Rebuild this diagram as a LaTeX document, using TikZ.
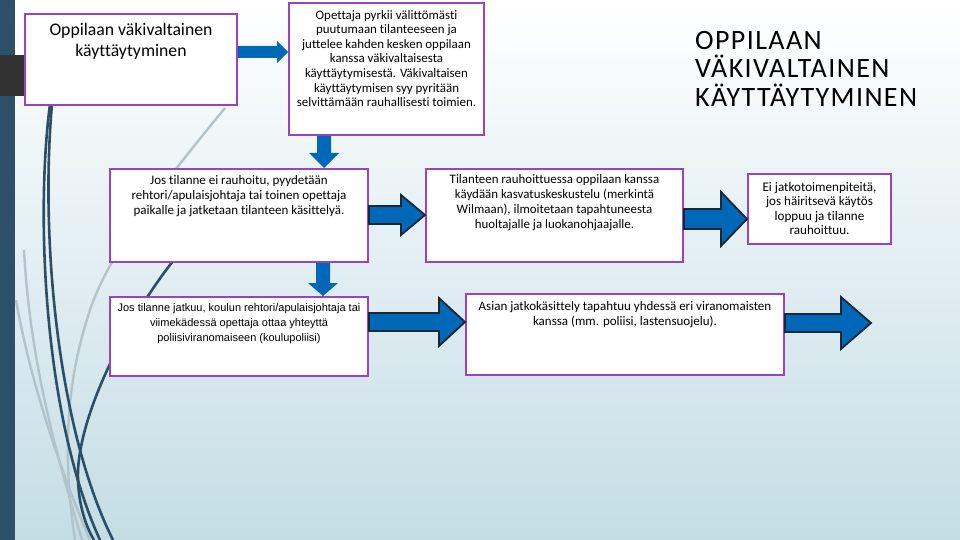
\documentclass[tikz,border=0pt]{standalone}
\usepackage{fontspec}
\setmainfont{Carlito}[Ligatures={NoCommon}]
\newfontfamily\arialf{Liberation Sans}[Ligatures={NoCommon}]
\usetikzlibrary{calc}
\definecolor{boxpurple}{RGB}{155,65,195}
\definecolor{arrowblue}{RGB}{0,104,182}
\definecolor{arrowedge}{RGB}{25,40,55}
\definecolor{barblue}{RGB}{44,80,104}
\definecolor{bgbottom}{RGB}{196,221,229}
\definecolor{darkblock}{RGB}{50,50,50}
\definecolor{curvedark}{RGB}{44,78,102}
\definecolor{curvelight}{RGB}{178,196,202}
% right-pointing block arrow: #1 start, #2 tip, #3 shaft half, #4 head half, #5 head length, #6 style
\newcommand\blockarrowR[6]{%
  \path[#6] ($(#1)+(0,-#3)$) -- ($(#2)+(-#5,-#3)$) -- ($(#2)+(-#5,-#4)$) -- (#2)
    -- ($(#2)+(-#5,#4)$) -- ($(#2)+(-#5,#3)$) -- ($(#1)+(0,#3)$) -- cycle;}
% down-pointing block arrow
\newcommand\blockarrowD[6]{%
  \path[#6] ($(#1)+(-#3,0)$) -- ($(#2)+(-#3,-#5)$) -- ($(#2)+(-#4,-#5)$) -- (#2)
    -- ($(#2)+(#4,-#5)$) -- ($(#2)+(#3,-#5)$) -- ($(#1)+(#3,0)$) -- cycle;}
\begin{document}
\begin{tikzpicture}[x=1pt,y=-1pt,
  box/.style={draw=boxpurple, line width=2pt, fill=white, inner sep=0pt},
  boxtext/.style={anchor=north, align=center, inner sep=0pt},
  flatarrow/.style={fill=arrowblue},
  edgearrow/.style={fill=arrowblue, draw=arrowedge, line width=1.8pt, line join=miter},
  darkcurve/.style={draw=curvedark, line width=2.6pt},
  lightcurve/.style={draw=curvelight, line width=2.4pt}]
\useasboundingbox (0,0) rectangle (960,540);
% background
\shade[top color=white, bottom color=bgbottom] (0,0) rectangle (960,540);
\fill[barblue] (0,0) rectangle (15,540);
\fill[darkblock] (0,55) rectangle (24,96);
% decorative curves
\path[lightcurve] (225,108) .. controls (170,175) and (110,250) .. (90,310) .. controls (70,370) and (60,440) .. (75,540);
\path[lightcurve] (16,300) .. controls (30,380) and (60,470) .. (90,540);
\path[lightcurve] (24,250) .. controls (30,360) and (55,450) .. (82,540);
\path[darkcurve] (50,104) .. controls (35,220) and (45,420) .. (100,540);
\path[darkcurve] (52,104) .. controls (40,240) and (58,430) .. (113,540);
\path[darkcurve] (178,255) .. controls (140,300) and (82,400) .. (78,470) .. controls (77,500) and (85,525) .. (94,540);
% boxes
\node[box, minimum width=212pt, minimum height=91pt, anchor=north west] (A) at (24,13) {};
\node[box, minimum width=195pt, minimum height=132pt, anchor=north west] (B) at (288,2) {};
\node[box, minimum width=258pt, minimum height=93pt, anchor=north west] (C) at (109,168) {};
\node[box, minimum width=257pt, minimum height=93pt, anchor=north west] (D) at (425,168) {};
\node[box, minimum width=143pt, minimum height=70pt, anchor=north west] (E) at (747,173) {};
\node[box, minimum width=258pt, minimum height=79pt, anchor=north west] (F) at (109,296) {};
\node[box, minimum width=318pt, minimum height=81pt, anchor=north west] (G) at (465,293) {};
\coordinate (Gout) at (871,323);
% texts
\node[boxtext, font=\fontsize{17.7}{21.5}\selectfont] (At) at ($(A.north)+(0,10)$) {Oppilaan väkivaltainen\\käyttäytyminen};
\node[boxtext, font=\fontsize{12.9}{14.6}\selectfont] (Bt) at ($(B.north)+(0,8)$) {Opettaja pyrkii välittömästi\\puutumaan tilanteeseen ja\\juttelee kahden kesken oppilaan\\kanssa väkivaltaisesta\\käyttäytymisestä. Väkivaltaisen\\käyttäytymisen syy pyritään\\selvittämään rauhallisesti toimien.};
\node[boxtext, font=\fontsize{13}{15}\selectfont] (Ct) at ($(C.north)+(0,7)$) {Jos tilanne ei rauhoitu, pyydetään\\rehtori/apulaisjohtaja tai toinen opettaja\\paikalle ja jatketaan tilanteen käsittelyä.};
\node[boxtext, font=\fontsize{12.9}{15}\selectfont] (Dt) at ($(D.north)+(0,6)$) {Tilanteen rauhoittuessa oppilaan kanssa\\käydään kasvatuskeskustelu (merkintä\\Wilmaan), ilmoitetaan tapahtuneesta\\huoltajalle ja luokanohjaajalle.};
\node[boxtext, font=\fontsize{13.1}{14.5}\selectfont] (Et) at ($(E.north)+(0,9)$) {Ei jatkotoimenpiteitä,\\jos häiritsevä käytös\\loppuu ja tilanne\\rauhoittuu.};
\node[boxtext, font=\arialf\fontsize{11}{15}\selectfont] (Ft) at ($(F.north)+(0,7)$) {Jos tilanne jatkuu, koulun rehtori/apulaisjohtaja tai\\viimekädessä opettaja ottaa yhteyttä\\poliisiviranomaiseen (koulupoliisi)};
\node[boxtext, font=\fontsize{13}{15}\selectfont] (Gt) at ($(G.north)+(0,8)$) {Asian jatkokäsittely tapahtuu yhdessä eri viranomaisten\\kanssa (mm. poliisi, lastensuojelu).};
\node[anchor=north west, align=left, inner sep=0pt, font=\addfontfeatures{LetterSpace=5}\fontsize{28}{28.5}\selectfont] (title) at (695,31) {OPPILAAN\\VÄKIVALTAINEN\\KÄYTTÄYTYMINEN};
% arrows
\blockarrowR{A.east |- 0,52}{B.west |- 0,52}{6}{11}{11}{flatarrow}
\blockarrowD{B.south -| 324,0}{C.north -| 324,0}{7}{15}{15}{flatarrow}
\blockarrowD{C.south -| 323,0}{F.north -| 323,0}{7}{15}{13}{flatarrow}
\blockarrowR{C.east |- 0,215}{D.west |- 0,215}{9}{20}{24}{edgearrow}
\blockarrowR{D.east |- 0,219}{E.west |- 0,219}{10}{27}{26}{edgearrow}
\blockarrowR{F.east |- 0,322}{G.west |- 0,322}{9}{24}{26}{edgearrow}
\blockarrowR{G.east |- 0,323}{Gout}{9}{26}{30}{edgearrow}
\end{tikzpicture}
\end{document}
